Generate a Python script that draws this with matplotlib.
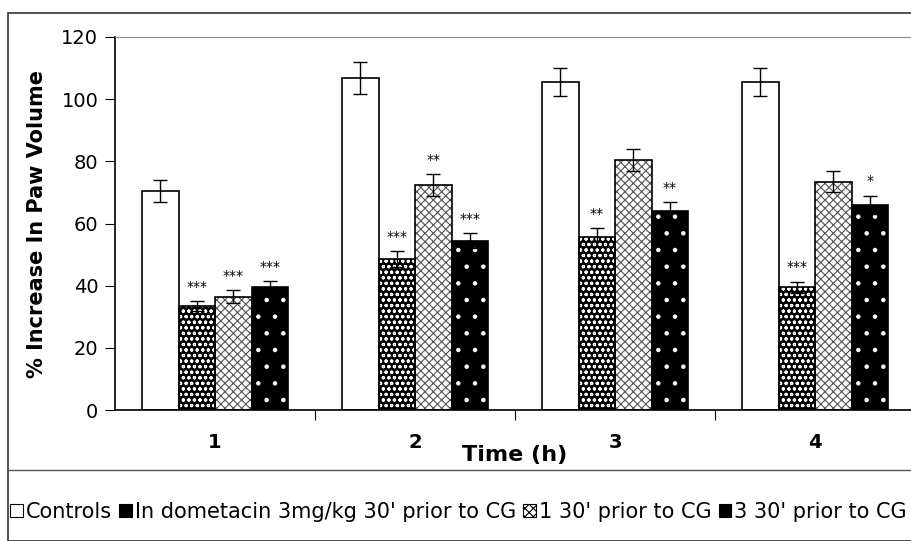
import numpy as np
import matplotlib
matplotlib.use('Agg')
import matplotlib.pyplot as plt
from matplotlib.patches import Rectangle
from matplotlib.lines import Line2D

plt.rcParams['font.family'] = ['DejaVu Sans']
plt.rcParams['hatch.linewidth'] = 0.8

times = ['1', '2', '3', '4']
series = ['Controls', 'In dometacin 3mg/kg 30\' prior to CG',
          '1 30\' prior to CG', '3 30\' prior to CG']
controls = [70.5, 106.8, 105.5, 105.5]
indo = [33.5, 48.5, 55.5, 39.5]
dose1 = [36.5, 72.5, 80.5, 73.5]
dose3 = [39.5, 54.5, 64.0, 66.0]
err_controls = [3.5, 5.0, 4.5, 4.5]
err_indo = [1.5, 2.5, 3.0, 1.8]
err_dose1 = [2.0, 3.5, 3.5, 3.5]
err_dose3 = [2.0, 2.5, 3.0, 3.0]
stars_controls = ['', '', '', '']
stars_indo = ['***', '***', '**', '***']
stars_dose1 = ['***', '**', '', '']
stars_dose3 = ['***', '***', '**', '*']

values = [controls, indo, dose1, dose3]
errors = [err_controls, err_indo, err_dose1, err_dose3]
stars = [stars_controls, stars_indo, stars_dose1, stars_dose3]

W, H = 911, 541
fig = plt.figure(figsize=(W / 100, H / 100), dpi=100)

# outer chart border and legend separator
fig.patches.append(Rectangle((8 / W, 0), 1.2, (H - 13) / H, transform=fig.transFigure,
                             fill=False, edgecolor='#333333', linewidth=1.2))
fig.lines.append(Line2D([8 / W, 1], [(H - 470) / H] * 2, transform=fig.transFigure,
                        color='#555555', linewidth=1))

ax = fig.add_axes([115 / W, (H - 410) / H, 800 / W, 373 / H])
x = np.arange(len(times))
bw = 0.1825
offsets = (np.arange(4) - 1.5) * bw

styles = [
    dict(face='white', hatch=None, hcol='black'),
    dict(face='black', hatch='ooo', hcol='white'),
    dict(face='white', hatch='xxxx', hcol='#555555'),
    dict(face='black', hatch='.', hcol='white'),
]

handles = []
for i in range(4):
    st = styles[i]
    xs = x + offsets[i]
    if st['hatch']:
        ax.bar(xs, values[i], bw, color=st['face'], edgecolor=st['hcol'],
               hatch=st['hatch'], linewidth=0, zorder=2)
    ax.bar(xs, values[i], bw, fill=False, edgecolor='black', linewidth=1.2, zorder=3)
    ax.errorbar(xs, values[i], yerr=errors[i], fmt='none', ecolor='black',
                elinewidth=1, capsize=5, capthick=1, zorder=4)
    for j in range(4):
        if stars[i][j]:
            ax.text(xs[j], values[i][j] + errors[i][j] + 2.3, stars[i][j],
                    ha='center', va='bottom', fontsize=10)
    handles.append(Rectangle((0, 0), 1, 1, facecolor=st['face'], edgecolor='black',
                             hatch=st['hatch'], linewidth=0.8))

ax.set_xlim(-0.5, 3.5)
ax.set_ylim(0, 120)
ax.set_yticks(range(0, 121, 20))
ax.set_xticks(np.arange(0.5, 3.5, 1))
ax.set_xticklabels([])
ax.tick_params(axis='y', direction='out', length=7, labelsize=14, pad=5)
ax.tick_params(axis='x', direction='out', length=7)
for j, t in enumerate(times):
    ax.text(x[j], -10.5, t, ha='center', va='center', fontsize=14, fontweight='bold')
ax.text(1.5, -14.5, 'Time (h)', ha='center', va='center', fontsize=16, fontweight='bold')
ax.set_ylabel('% Increase In Paw Volume', fontsize=15, fontweight='bold')
ax.yaxis.set_label_coords(-0.085, 0.5)

ax.spines['right'].set_visible(False)
ax.spines['top'].set_color('#888888')
ax.spines['left'].set_linewidth(1.2)
ax.spines['bottom'].set_linewidth(1.2)

fig.legend(handles, series, loc='center left', bbox_to_anchor=(10 / W, (H - 512) / H),
           ncol=4, frameon=False, handlelength=0.6, handleheight=0.6, handletextpad=0.15,
           columnspacing=0.35, borderpad=0, borderaxespad=0, fontsize=15)

fig.savefig('out.png', dpi=100)
